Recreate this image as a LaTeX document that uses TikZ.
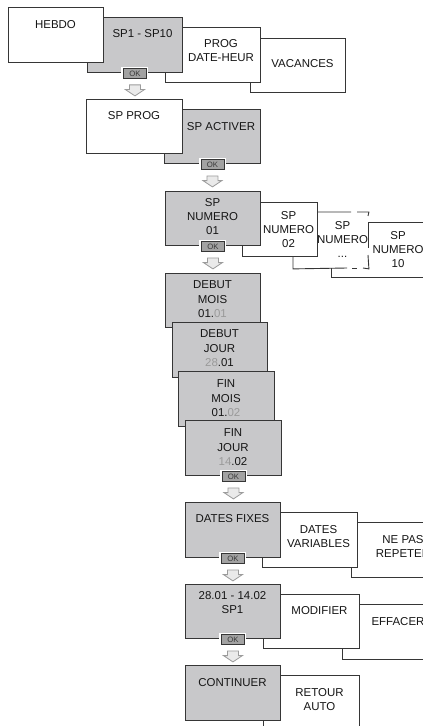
\documentclass[tikz,border=0pt]{standalone}
\usepackage{fontspec}
\setmainfont{Liberation Sans}
\usetikzlibrary{calc}
\definecolor{boxgray}{HTML}{C8C8CA}
\definecolor{edgec}{HTML}{363636}
\definecolor{txtc}{HTML}{161616}
\definecolor{dimc}{HTML}{9A9A9A}
\definecolor{okfill}{HTML}{A2A2A2}
\definecolor{arrfill}{HTML}{EAEAEA}
\definecolor{arredge}{HTML}{9C9C9C}
\newcommand{\dimtxt}[1]{{\color{dimc}#1}}
\begin{document}
\begin{tikzpicture}[x=1bp,y=-1bp,
  box/.style={draw=edgec, line width=0.9bp, anchor=north west, inner sep=0pt,
              minimum width=95bp, minimum height=55bp},
  graybox/.style={box, fill=boxgray},
  whitebox/.style={box, fill=white},
  edge/.style={draw=edgec, line width=0.9bp},
  lbl/.style={font=\fontsize{11.5}{14.5}\selectfont, align=center, inner sep=0pt,
              anchor=north, text=txtc},
  okbtn/.style={draw=edgec, line width=0.6bp, fill=okfill, inner sep=0pt,
                minimum width=23bp, minimum height=9.5bp, text=txtc!85,
                font=\fontsize{7.8}{8}\selectfont,
                preaction={draw=white, line width=4bp}},
  dnarrow/.pic={\draw[draw=arredge, fill=arrfill, line width=0.8bp]
      (-5.5,0) -- (5.5,0) -- (5.5,4.7) -- (9.5,4.7) -- (0,11) -- (-9.5,4.7) -- (-5.5,4.7) -- cycle;}
]
\useasboundingbox (0,0) rectangle (422,726);

% ---- row 1
\node[whitebox, minimum height=54bp] (vac) at (250,38) {};
\node[lbl] (tvac) at (302.5,58.9) {VACANCES};
\node[whitebox] (prog) at (165,27) {};
\node[lbl] (tprog) at (221,38.9) {PROG\\DATE-HEUR};
\node[graybox] (sp1) at (87,17) {};
\node[lbl] (tsp1) at (142.5,28.9) {SP1 - SP10};
\node[whitebox] (hebdo) at (8,7) {};
\node[lbl] (thebdo) at (55.5,19.9) {HEBDO};
\node[okbtn] (ok1) at ($(sp1.south)+(0,0.5)$) {OK};
\pic at ($(sp1.south)+(0,12)$) {dnarrow};

% ---- row 2
\node[graybox, minimum width=96bp, minimum height=54bp] (spact) at (164,109) {};
\node[lbl] (tspact) at (221,121.9) {SP ACTIVER};
\node[whitebox, minimum width=96bp, minimum height=54bp] (spprog) at (86,99) {};
\node[lbl] (tspprog) at (134,110.9) {SP PROG};
\node[okbtn] (ok2) at ($(spact.south)+(0,0.5)$) {OK};
\pic at ($(spact.south)+(0,12)$) {dnarrow};

% ---- row 3
\node[whitebox, minimum width=97bp] (n10) at (331,222) {};
\node[lbl] (tn10) at (398,230.9) {SP\\NUMERO\\10};
\node[box, draw=none, fill=white, minimum width=75bp, minimum height=56bp] (ndots) at (293,212) {};
\draw[edge] (351,212) -- (ndots.north west) -- (ndots.south west) -- (347,268);
\draw[edge] (357,212) -- (ndots.north east) -- (368,216);
\draw[edge] (368,222) -- (368,248);
\draw[edge] (368,255) -- (ndots.south east) -- (363,268);
\draw[edge] (352,268) -- (357,268);
\node[lbl] (tndots) at (342.5,220.9) {SP\\NUMERO\\...};
\node[whitebox, minimum width=75bp, minimum height=54bp] (n02) at (242,202) {};
\node[lbl] (tn02) at (288.5,210.9) {SP\\NUMERO\\02};
\node[graybox, minimum height=54bp] (n01) at (165,191) {};
\node[lbl] (tn01) at (212.5,197.9) {SP\\NUMERO\\01};
\node[okbtn] (ok3) at ($(n01.south)+(0,0.5)$) {OK};
\pic at ($(n01.south)+(0,12)$) {dnarrow};

% ---- cascade
\node[graybox, minimum height=54bp] (dmois) at (165,273) {};
\node[lbl] (tdmois) at (212.5,280.9) {DEBUT\\MOIS\\01.\dimtxt{01}};
\node[graybox] (djour) at (172,322) {};
\node[lbl] (tdjour) at (219.5,329.9) {DEBUT\\JOUR\\\dimtxt{28}.01};
\node[graybox, minimum width=96bp] (fmois) at (178,371) {};
\node[lbl] (tfmois) at (226,379.9) {FIN\\MOIS\\01.\dimtxt{02}};
\node[graybox, minimum width=96bp] (fjour) at (185,420) {};
\node[lbl] (tfjour) at (233,428.9) {FIN\\JOUR\\\dimtxt{14}.02};
\node[okbtn] (ok4) at ($(fjour.south)+(0,0.5)$) {OK};
\pic at ($(fjour.south)+(0,12)$) {dnarrow};

% ---- dates
\node[whitebox, minimum width=98bp] (nepas) at (351,522) {};
\node[lbl] (tnepas) at (403,534.9) {NE PAS\\REPETER};
\node[whitebox] (dvar) at (262,512) {};
\node[lbl] (tdvar) at (318.5,524.9) {DATES\\VARIABLES};
\node[graybox] (dfix) at (185,502) {};
\node[lbl] (tdfix) at (232.5,513.9) {DATES FIXES};
\node[okbtn] (ok5) at ($(dfix.south)+(0,0.5)$) {OK};
\pic at ($(dfix.south)+(0,12)$) {dnarrow};

% ---- summary
\node[whitebox] (eff) at (342,604) {};
\node[lbl] (teff) at (398,616.9) {EFFACER};
\node[whitebox, minimum width=96bp, minimum height=54bp] (modif) at (263,594) {};
\node[lbl] (tmodif) at (319.5,605.9) {MODIFIER};
\node[graybox, minimum height=54bp] (sum) at (185,584) {};
\node[lbl] (tsum) at (232.5,590.9) {28.01 - 14.02\\SP1};
\node[okbtn] (ok6) at ($(sum.south)+(0,0.5)$) {OK};
\pic at ($(sum.south)+(0,12)$) {dnarrow};

% ---- last
\node[whitebox, minimum width=96bp] (retour) at (263,675) {};
\node[lbl] (tretour) at (319.5,687.9) {RETOUR\\AUTO};
\node[graybox] (contin) at (185,665) {};
\node[lbl] (tcontin) at (232.5,677.9) {CONTINUER};
\end{tikzpicture}
\end{document}
